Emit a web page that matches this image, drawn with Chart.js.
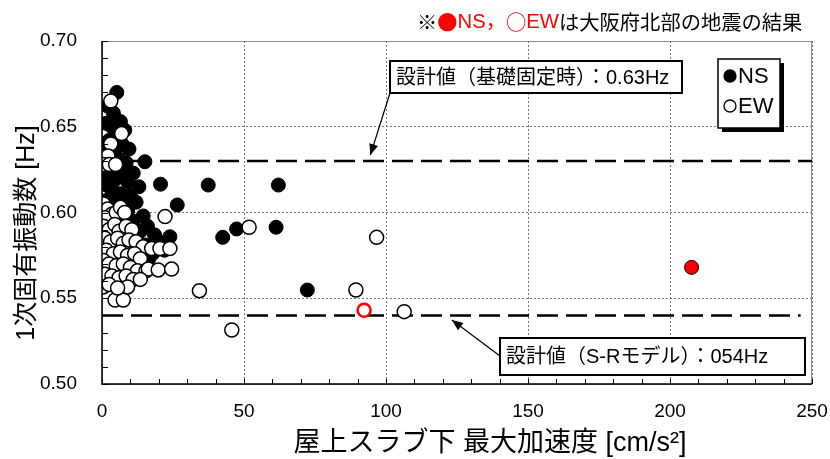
<!DOCTYPE html>
<html>
<head>
<meta charset="utf-8">
<script src="https://cdn.jsdelivr.net/npm/chart.js@4.4.0/dist/chart.umd.min.js"></script>
<style>
  html, body { margin: 0; padding: 0; background: #fff; }
  #wrap { width: 830px; height: 459px; }
</style>
</head>
<body>
<div id="wrap"><canvas id="c" width="830" height="459"></canvas></div>
<script>
// Axis ticks
const xTicks = [0, 50, 100, 150, 200, 250];
const yTicks = [0.50, 0.55, 0.60, 0.65, 0.70];

// NS direction: roof-slab peak acceleration [cm/s2] vs. 1st natural frequency [Hz]
const nsAcc = [5.2, 2.0, 4.0, 6.5, 1.5, 3.5, 8.0, 5.0, 2.5, 7.0, 9.5, 4.5, 1.0, 3.0, 6.0, 8.5,
  15.1, 11.0, 6.5, 2.5, 4.5, 9.0, 1.5, 20.6, 13.0, 3.5, 6.5, 10.0,
  1.5, 4.0, 7.5, 12.0, 26.5, 2.5, 9.0, 14.5, 5.5, 11.0, 16.0, 7.5, 3.5, 13.5, 18.5, 23.9, 10.0,
  20.0, 15.5, 6.5, 12.5, 22.0, 9.0, 16.5, 18.0,
  37.4, 62.1, 42.5, 47.4, 61.3, 72.3];
const nsFreq = [0.670, 0.662, 0.658, 0.653, 0.652, 0.650, 0.648, 0.645, 0.642, 0.640, 0.637, 0.636, 0.638, 0.633, 0.631, 0.629,
  0.6296, 0.623, 0.624, 0.622, 0.619, 0.618, 0.616, 0.6165, 0.615, 0.613, 0.611, 0.610,
  0.607, 0.605, 0.605, 0.606, 0.6044, 0.600, 0.601, 0.598, 0.597, 0.595, 0.592, 0.591, 0.592, 0.589, 0.587, 0.5859, 0.586,
  0.583, 0.581, 0.583, 0.578, 0.578, 0.575, 0.573, 0.5764,
  0.616, 0.616, 0.5855, 0.5904, 0.5914, 0.5548];

// EW direction
const ewAcc = [3.1, 6.9, 3.1, 2.1, 0.4, 2.6, 4.8,
  0.5, 2.0, 3.5, 1.0, 5.0, 6.5, 8.0, 22.2, 0.5, 2.5, 4.5, 6.0, 8.5, 10.5,
  1.0, 3.0, 5.5, 7.5, 9.5, 12.0, 14.5, 1.5, 4.0, 6.5, 9.0, 11.5, 13.5, 17.5, 20.4, 23.9,
  0.5, 2.5, 5.0, 7.5, 10.0, 12.5, 15.5, 16.3, 19.8, 24.5, 1.0, 3.5, 6.0, 8.5, 11.0, 13.5,
  0.4, 2.5, 4.6, 7.5, 9.0, 5.5,
  34.3, 89.4, 106.4, 45.7, 51.8, 96.7];
const ewFreq = [0.665, 0.646, 0.640, 0.633, 0.628, 0.628, 0.628,
  0.605, 0.602, 0.599, 0.597, 0.600, 0.603, 0.600, 0.5976, 0.592, 0.590, 0.593, 0.589, 0.592, 0.590,
  0.585, 0.583, 0.585, 0.582, 0.584, 0.583, 0.580, 0.578, 0.576, 0.577, 0.575, 0.576, 0.573, 0.579, 0.579, 0.579,
  0.572, 0.570, 0.569, 0.570, 0.568, 0.566, 0.566, 0.567, 0.5665, 0.567, 0.564, 0.563, 0.562, 0.563, 0.561, 0.561,
  0.5566, 0.558, 0.549, 0.549, 0.5566, 0.556,
  0.5544, 0.5548, 0.5422, 0.5315, 0.5914, 0.5855];

// Records of the northern Osaka earthquake
const nsOsakaAcc = [207.6];
const nsOsakaFreq = [0.568];
const ewOsakaAcc = [92.3];
const ewOsakaFreq = [0.543];

// Design values [Hz]
const designFixedBase = 0.63;
const designSR = 0.54;

const toPoints = (xs, ys) => xs.map((x, i) => ({ x: x, y: ys[i] }));

const LATIN_CJK = "'Liberation Sans', 'Noto Sans CJK JP', sans-serif";
const CJK_FIRST = "'Noto Sans CJK JP', 'Liberation Sans', sans-serif";

// Draws frame, minor ticks, reference labels, legend and titles
const decorations = {
  id: 'decorations',
  beforeDatasetsDraw(chart) {
    const { ctx, chartArea: a } = chart;
    ctx.save();
    ctx.strokeStyle = '#8c8c8c';
    ctx.lineWidth = 1;
    ctx.setLineDash([]);
    ctx.strokeRect(a.left + 0.5, a.top + 0.5, a.right - a.left - 1, a.bottom - a.top);
    ctx.restore();
  },
  afterDatasetsDraw(chart) {
    const { ctx, chartArea: a, scales } = chart;
    const xs = scales.x, ys = scales.y;
    ctx.save();
    // axes
    ctx.strokeStyle = '#000';
    ctx.lineWidth = 1.5;
    ctx.beginPath();
    ctx.moveTo(a.left, a.top);
    ctx.lineTo(a.left, a.bottom);
    ctx.lineTo(a.right, a.bottom);
    ctx.stroke();
    // inward minor ticks
    ctx.lineWidth = 1;
    ctx.beginPath();
    for (let v = 0; v <= 250; v += 10) {
      const px = Math.round(xs.getPixelForValue(v)) + 0.5;
      ctx.moveTo(px, a.bottom);
      ctx.lineTo(px, a.bottom - 5);
    }
    for (let k = 0; k <= 20; k++) {
      const py = Math.round(ys.getPixelForValue(0.5 + k * 0.01)) + 0.5;
      ctx.moveTo(a.left, py);
      ctx.lineTo(a.left + 6, py);
    }
    ctx.stroke();

    // callout boxes with arrows
    const callout = (text, bx, by, bw, bh, fromX, fromY, tipX, tipY) => {
      ctx.strokeStyle = '#000';
      ctx.fillStyle = '#000';
      ctx.lineWidth = 1.2;
      ctx.beginPath();
      ctx.moveTo(fromX, fromY);
      ctx.lineTo(tipX, tipY);
      ctx.stroke();
      const ang = Math.atan2(tipY - fromY, tipX - fromX);
      const L = 11, W = 4.5;
      ctx.beginPath();
      ctx.moveTo(tipX, tipY);
      ctx.lineTo(tipX - L * Math.cos(ang) + W * Math.sin(ang), tipY - L * Math.sin(ang) - W * Math.cos(ang));
      ctx.lineTo(tipX - L * Math.cos(ang) - W * Math.sin(ang), tipY - L * Math.sin(ang) + W * Math.cos(ang));
      ctx.closePath();
      ctx.fill();
      ctx.fillStyle = '#fff';
      ctx.fillRect(bx, by, bw, bh);
      ctx.lineWidth = 2;
      ctx.strokeRect(bx, by, bw, bh);
      ctx.fillStyle = '#000';
      ctx.font = '20px ' + LATIN_CJK;
      ctx.textBaseline = 'middle';
      ctx.textAlign = 'left';
      ctx.fillText(text, bx + 6, by + bh / 2 + 1);
    };
    callout('設計値（基礎固定時）：0.63Hz', 390, 61, 292, 32, 390, 93,
      xs.getPixelForValue(94.5), ys.getPixelForValue(0.6335));
    callout('設計値（S-Rモデル）：054Hz', 500, 338, 305, 37, 500, 356,
      xs.getPixelForValue(123.2), ys.getPixelForValue(0.5373));

    // legend
    const lx = 718, ly = 59, lw = 62, lh = 69;
    ctx.fillStyle = '#000';
    ctx.fillRect(lx + 4, ly + 4, lw, lh);
    ctx.fillStyle = '#fff';
    ctx.fillRect(lx, ly, lw, lh);
    ctx.strokeStyle = '#000';
    ctx.lineWidth = 1.5;
    ctx.strokeRect(lx, ly, lw, lh);
    const items = chart.data.datasets.filter(d => d.legendRank)
      .sort((p, q) => p.legendRank - q.legendRank);
    items.forEach((d, i) => {
      const cy = ly + 17 + i * 30;
      ctx.beginPath();
      ctx.arc(lx + 12, cy, 6, 0, Math.PI * 2);
      ctx.fillStyle = d.backgroundColor;
      ctx.fill();
      ctx.lineWidth = 1.3;
      ctx.strokeStyle = '#000';
      ctx.stroke();
      ctx.fillStyle = '#000';
      ctx.font = '22px ' + LATIN_CJK;
      ctx.textAlign = 'left';
      ctx.textBaseline = 'middle';
      ctx.fillText(d.label, lx + 20, cy + 1);
    });

    // note above the plot
    const parts = [['※', '#000', CJK_FIRST], ['●', '#ff0000', CJK_FIRST], ['NS，', '#ff0000', LATIN_CJK],
      ['○', '#ff0000', CJK_FIRST], ['EW', '#ff0000', LATIN_CJK], ['は大阪府北部の地震の結果', '#000', CJK_FIRST]];
    ctx.textBaseline = 'middle';
    ctx.textAlign = 'left';
    let tx = 417;
    parts.forEach(([t, c, f]) => {
      ctx.font = '20.3px ' + f;
      ctx.fillStyle = c;
      ctx.fillText(t, tx, 22);
      tx += ctx.measureText(t).width;
    });

    // axis titles
    ctx.fillStyle = '#000';
    ctx.font = '25px ' + LATIN_CJK;
    ctx.textAlign = 'center';
    ctx.textBaseline = 'middle';
    ctx.save();
    ctx.translate(27, 233);
    ctx.rotate(-Math.PI / 2);
    ctx.fillText('1次固有振動数 [Hz]', 0, 0);
    ctx.restore();
    ctx.font = '27px ' + LATIN_CJK;
    ctx.fillText('屋上スラブ下 最大加速度 [cm/s²]', 490, 444);
    ctx.restore();
  }
};

const ctx = document.getElementById('c').getContext('2d');
new Chart(ctx, {
  type: 'scatter',
  data: {
    datasets: [
      {
        label: 'EW', legendRank: 2, order: 1,
        data: toPoints(ewAcc, ewFreq),
        backgroundColor: '#ffffff', borderColor: '#000000', borderWidth: 1.5,
        pointRadius: 7, pointHoverRadius: 7
      },
      {
        label: 'EW（大阪府北部）', order: 0,
        data: toPoints(ewOsakaAcc, ewOsakaFreq),
        backgroundColor: '#ffffff', borderColor: '#ff0000', borderWidth: 2.5,
        pointRadius: 6.5, pointHoverRadius: 6.5
      },
      {
        label: 'NS', legendRank: 1, order: 2,
        data: toPoints(nsAcc, nsFreq),
        backgroundColor: '#000000', borderColor: '#000000', borderWidth: 1,
        pointRadius: 7, pointHoverRadius: 7
      },
      {
        label: 'NS（大阪府北部）', order: 0,
        data: toPoints(nsOsakaAcc, nsOsakaFreq),
        backgroundColor: '#ff0000', borderColor: '#000000', borderWidth: 1,
        pointRadius: 7, pointHoverRadius: 7
      },
      {
        type: 'line', label: '設計値（基礎固定時）', order: 5,
        data: [{ x: 0, y: designFixedBase }, { x: 250, y: designFixedBase }],
        borderColor: '#000', borderWidth: 2.5, borderDash: [21, 8], pointRadius: 0, fill: false
      },
      {
        type: 'line', label: '設計値（S-Rモデル）', order: 5,
        data: [{ x: 0, y: designSR }, { x: 246, y: designSR }],
        borderColor: '#000', borderWidth: 2.5, borderDash: [21, 8], pointRadius: 0, fill: false
      }
    ]
  },
  options: {
    responsive: false,
    animation: false,
    devicePixelRatio: 1,
    layout: { autoPadding: false, padding: { top: 41, right: 18, left: 0, bottom: 0 } },
    plugins: { legend: { display: false }, tooltip: { enabled: false } },
    scales: {
      x: {
        type: 'linear', min: 0, max: 250,
        afterBuildTicks: s => { s.ticks = xTicks.map(v => ({ value: v })); },
        afterFit: s => { s.height = 75; s.paddingLeft = 0; s.paddingRight = 0; },
        grid: { color: '#777', lineWidth: 1, drawTicks: false },
        border: { display: false, dash: [2, 2] },
        ticks: { font: { family: 'Liberation Sans', size: 19 }, color: '#000', padding: 16, maxRotation: 0 }
      },
      y: {
        type: 'linear', min: 0.5, max: 0.7,
        afterBuildTicks: s => { s.ticks = yTicks.map(v => ({ value: v })); },
        afterFit: s => { s.width = 102; s.paddingTop = 0; s.paddingBottom = 0; },
        grid: { color: '#777', lineWidth: 1, drawTicks: false },
        border: { display: false, dash: [2, 2] },
        ticks: { font: { family: 'Liberation Sans', size: 19 }, color: '#000', padding: 25, callback: v => v.toFixed(2) }
      }
    }
  },
  plugins: [decorations]
});
</script>
</body>
</html>
